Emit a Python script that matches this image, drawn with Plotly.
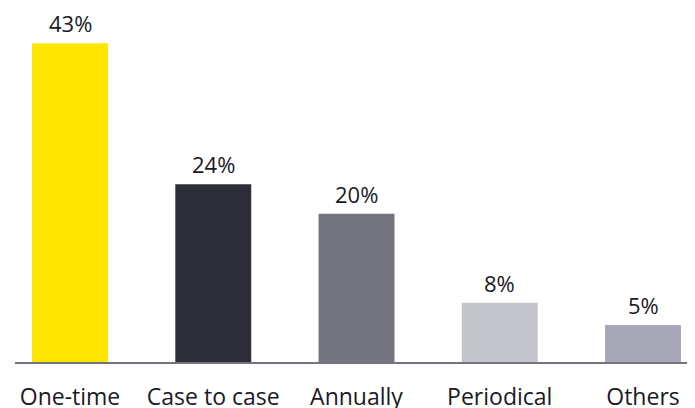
import plotly.graph_objects as go

categories = ["One-time", "Case to case", "Annually", "Periodical", "Others"]
values = [43, 24, 20, 8, 5]
colors = ["#FFE600", "#2E2E38", "#747480", "#C4C4CD", "#A7A7B7"]
value_labels = [f"{v}%" for v in values]

FONT = "Open Sans"

fig = go.Figure()
fig.add_trace(go.Bar(
    x=categories,
    y=values,
    marker=dict(color=colors, line=dict(width=0)),
    hoverinfo="skip",
    showlegend=False,
))

for c, v, t in zip(categories, values, value_labels):
    fig.add_annotation(
        x=c, y=v, text=t, showarrow=False,
        yanchor="bottom", yshift=3,
        font=dict(family=FONT, size=22, color="#1a1a24"),
    )

# page body adds an 8px offset, so the figure is 8px smaller than the window
fig.update_layout(
    width=687, height=400,
    margin=dict(l=7, r=3, t=2, b=46, autoexpand=False),
    paper_bgcolor="white",
    plot_bgcolor="white",
    bargap=0.47,
    xaxis=dict(
        type="category",
        range=[-0.384, 4.342],
        automargin=False,
        showline=True, linecolor="#747480", linewidth=1.5,
        ticks="", showgrid=False, zeroline=False,
        tickfont=dict(family=FONT, size=23, color="#1a1a24"),
        ticklabelstandoff=14,
    ),
    yaxis=dict(
        range=[0, 47.5],
        automargin=False,
        visible=False, showgrid=False, zeroline=False,
    ),
)

fig.write_html("out.html")
